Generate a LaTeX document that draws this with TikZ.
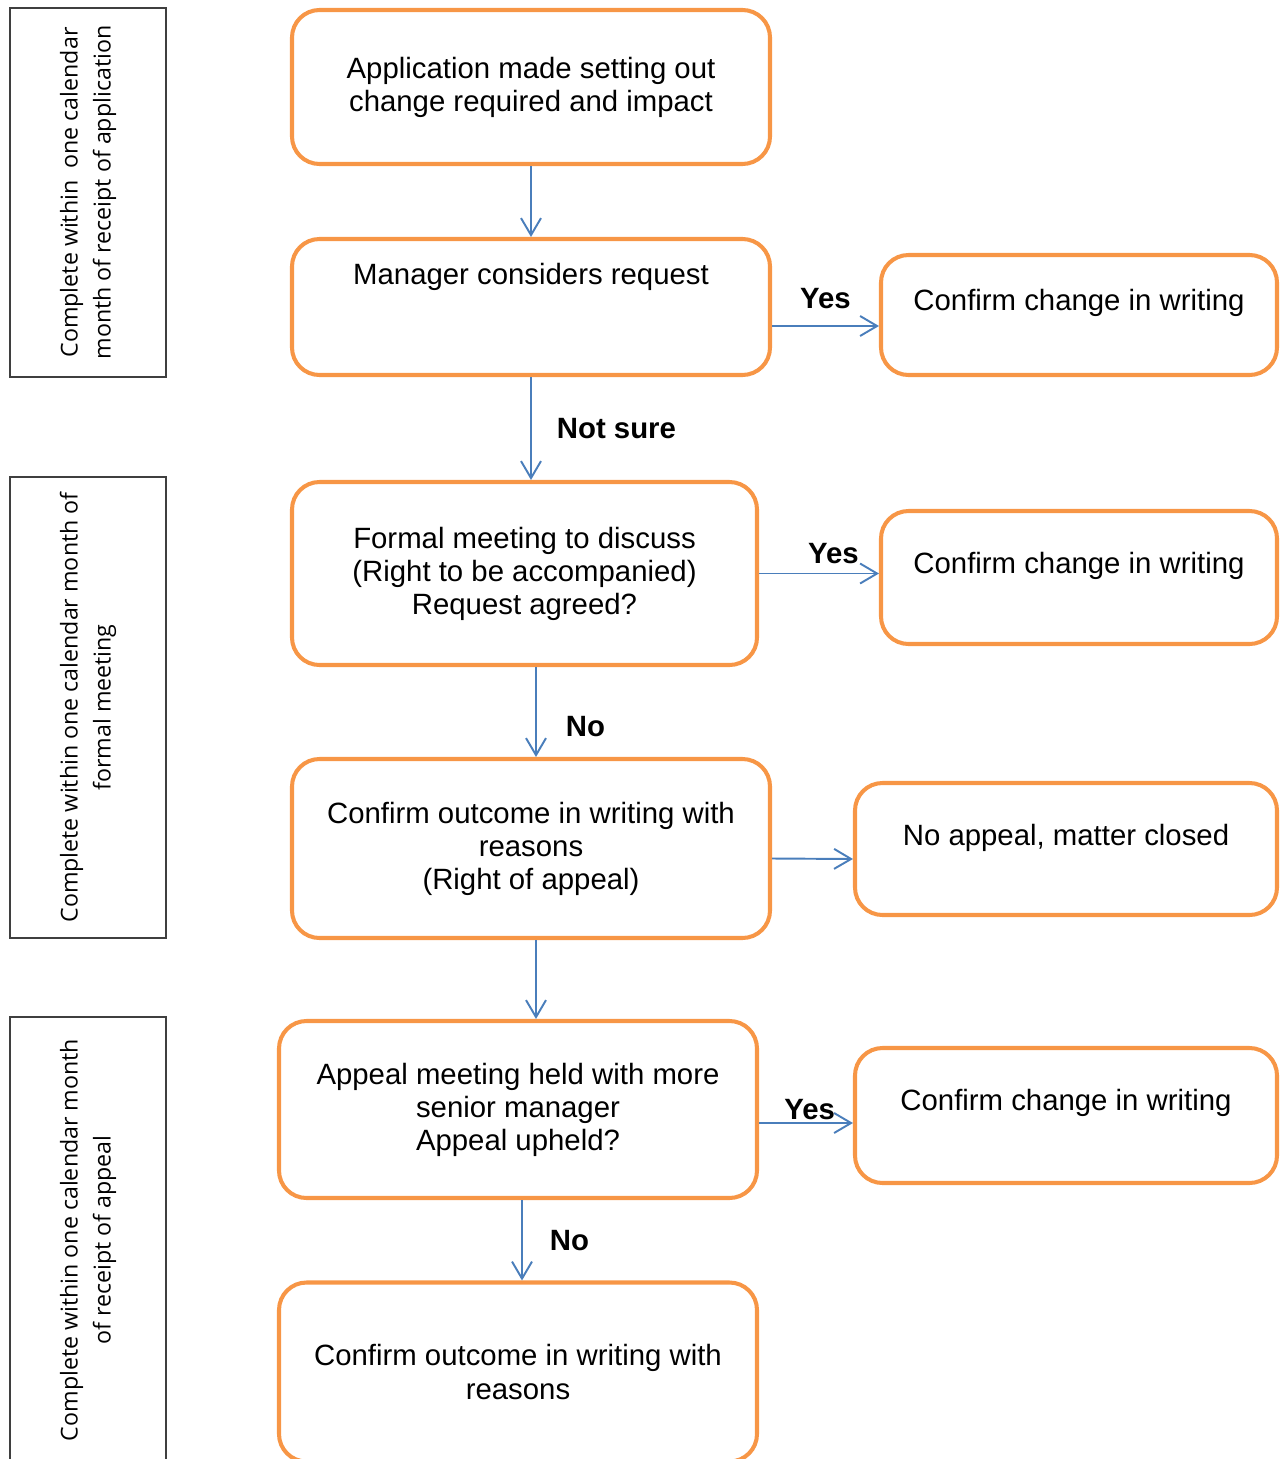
\documentclass[tikz,border=0pt]{standalone}
\usepackage{fontspec}
\setmainfont{Liberation Sans}
\newfontfamily\sidefont{Open Sans}
\usetikzlibrary{arrows.meta, positioning}
\definecolor{boxorange}{HTML}{F79646}
\definecolor{flowblue}{HTML}{4A7EBB}
\definecolor{sidegray}{HTML}{3F3F3F}

\begin{document}
\begin{tikzpicture}[
    every node/.style={font=\fontsize{16.7}{18.8}\selectfont},
    stage/.style={draw=boxorange, line width=2.3pt, rounded corners=0.55cm, align=center},
    raised/.style={text depth=#1},
    side/.style={draw=sidegray, line width=0.6pt, rotate=90, align=center, minimum height=3.12cm, font=\sidefont\fontsize{13.2}{18.8}\selectfont},
    flow/.style={-{Straight Barb[length=3.4mm, width=4mm]}, line width=1.1pt, flowblue},
    lbl/.style={font=\bfseries\fontsize{16.7}{18.8}\selectfont, text=black, inner sep=0pt}
]
    \useasboundingbox (0,0) rectangle (25.72,-29.18);
    \clip (0,0) rectangle (25.72,-29.18);

    \node[side, minimum width=7.38cm] (s1) at (1.76,-3.85) {Complete within~ one calendar\\month of receipt of application};
    \node[side, minimum width=9.22cm] (s2) at (1.76,-14.15) {Complete within one calendar month of\\formal meeting};
    \node[side, minimum width=8.92cm] (s3) at (1.76,-24.80) {Complete within one calendar month\\of receipt of appeal};

    \node[stage, minimum width=9.56cm, minimum height=3.08cm] (app) at (10.62,-1.74) {Application made setting out\\change required and impact};
    \node[stage, raised=1.32cm, minimum width=9.56cm, minimum height=2.72cm] (mgr) at (10.62,-6.14) {Manager considers request};
    \node[stage, raised=0.60cm, minimum width=7.92cm, minimum height=2.40cm] (yes1) at (21.58,-6.30) {Confirm change in writing};
    \node[stage, minimum width=9.30cm, minimum height=3.66cm] (meet) at (10.49,-11.47) {Formal meeting to discuss\\(Right to be accompanied)\\Request agreed?};
    \node[stage, raised=0.58cm, minimum width=7.92cm, minimum height=2.66cm] (yes2) at (21.58,-11.55) {Confirm change in writing};
    \node[stage, minimum width=9.56cm, minimum height=3.58cm] (outc) at (10.62,-16.97) {Confirm outcome in writing with\\reasons\\(Right of appeal)};
    \node[stage, raised=0.56cm, minimum width=8.44cm, minimum height=2.64cm] (close) at (21.32,-16.98) {No appeal, matter closed};
    \node[stage, minimum width=9.56cm, minimum height=3.54cm] (appeal) at (10.36,-22.19) {Appeal meeting held with more\\senior manager\\Appeal upheld?};
    \node[stage, raised=0.62cm, minimum width=8.44cm, minimum height=2.70cm] (yes3) at (21.32,-22.31) {Confirm change in writing};
    \node[stage, minimum width=9.56cm, minimum height=3.58cm] (final) at (10.36,-27.44) {Confirm outcome in writing with\\reasons};

    \draw[flow] (app) -- (mgr);
    \draw[flow] (mgr.south) -- (mgr.south |- meet.north) node[lbl, midway, right=0.5cm] {Not sure};
    \draw[flow] ([yshift=-0.38cm]mgr.east) -- ([yshift=-0.22cm]yes1.west) node[lbl, midway, above=0.33cm] {Yes};
    \draw[flow] (meet.east) -- (meet.east -| yes2.west) node[lbl, pos=0.62, above=0.17cm] {Yes};
    \draw[flow] ([xshift=0.23cm]meet.south) -- ([xshift=0.1cm]outc.north) node[lbl, pos=0.66, right=0.58cm] {No};
    \draw[flow] ([yshift=-0.2cm]outc.east) -- ([yshift=-0.2cm]close.west);
    \draw[flow] ([xshift=0.1cm]outc.south) -- ([xshift=0.36cm]appeal.north);
    \draw[flow] ([yshift=-0.27cm]appeal.east) -- ([yshift=-0.15cm]yes3.west) node[lbl, pos=0.54, above=0.05cm] {Yes};
    \draw[flow] ([xshift=0.08cm]appeal.south) -- ([xshift=0.08cm]final.north) node[lbl, midway, right=0.54cm] {No};
\end{tikzpicture}
\end{document}
